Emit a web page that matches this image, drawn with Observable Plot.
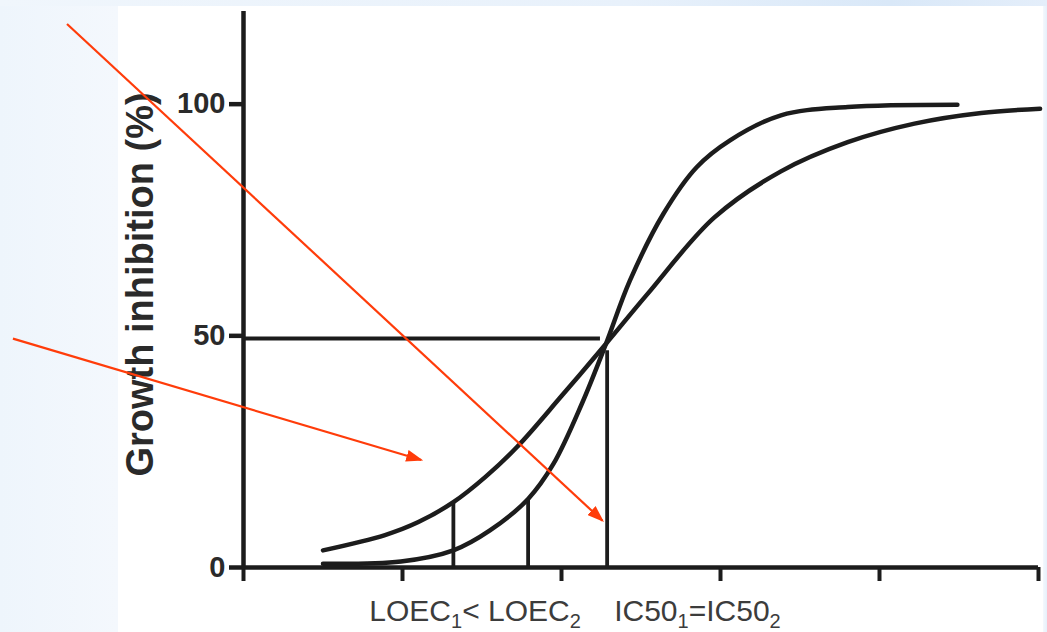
<!DOCTYPE html>
<html>
<head>
<meta charset="utf-8">
<script src="https://cdn.jsdelivr.net/npm/d3@7"></script>
<script src="https://cdn.jsdelivr.net/npm/@observablehq/plot@0.6"></script>
<style>
  html, body { margin: 0; padding: 0; width: 1047px; height: 632px; overflow: hidden; }
  body { background: linear-gradient(to right, #eef5fc 0px, #f4f8fd 118px, #f4f8fd 1043px, #e6f0fb 1047px); position: relative; font-family: "Liberation Sans", Arial, sans-serif; }
  #topband { position: absolute; left: 0; top: 0; width: 1047px; height: 6px; background: linear-gradient(to right, #f0f6fc, #e8f1fb 60%, #d9e8f8 85%, #e4eefa); }
  #panel { position: absolute; left: 118px; top: 6px; width: 925px; height: 626px; background: #ffffff; }
  #chart { position: absolute; left: 0; top: 0; }
</style>
</head>
<body>
<div id="topband"></div>
<div id="panel"></div>
<div id="chart"></div>
<script>
// ---- data ----
const curve1X = [0.50, 0.89, 1.10, 1.32, 1.52, 1.72, 2.00, 2.28, 2.54, 2.96, 3.38, 3.80, 4.22, 4.64, 5.01];
const curve1Y = [3.7, 7.0, 9.8, 14.1, 19.5, 26.0, 37.0, 48.3, 59.0, 75.5, 85.5, 91.8, 95.8, 98.1, 99.0];
const curve2X = [0.50, 0.99, 1.32, 1.55, 1.79, 1.95, 2.13, 2.28, 2.43, 2.64, 2.85, 3.06, 3.38, 3.80, 4.49];
const curve2Y = [0.8, 1.3, 3.7, 8.0, 14.8, 22.4, 35.5, 48.3, 61.9, 76.3, 86.4, 92.2, 97.6, 99.4, 99.9];
const loecX = [1.32, 1.79];
const loecY = [14.1, 14.8];
const ic50X = 2.287;
const ic50DropTop = 46.8;
const ic50Level = 49.4;
const ic50LevelEnd = 2.245;
const xTicks = [0, 1, 2, 3, 4, 5];
const yTicks = [0, 50, 100];
const yLabel = "Growth inhibition (%)";
const xLabelParts = ["LOEC", "1", "< LOEC", "2", "\u00a0\u00a0\u00a0\u00a0IC50", "1", "=IC50", "2"];
const xLabelSub = [false, true, false, true, false, true, false, true];
const arrowX1 = [-1.11, -1.45];
const arrowY1 = [117.3, 49.4];
const arrowX2 = [2.258, 1.118];
const arrowY2 = [10.1, 23.2];

// ---- build tables ----
const c1 = curve1X.map((x, i) => ({x, y: curve1Y[i]}));
const c2 = curve2X.map((x, i) => ({x, y: curve2Y[i]}));
const loec = loecX.map((x, i) => ({x, y: loecY[i]}));
const arrows = arrowX1.map((x1, i) => ({x1, y1: arrowY1[i], x2: arrowX2[i], y2: arrowY2[i]}));
const xLabel = xLabelParts.join("");

const ink = "#1c1c1c";
const red = "#ff3c0a";

function headMarker(color) {
  const m = d3.create("svg:marker")
    .attr("viewBox", "0 -6 17 12")
    .attr("markerWidth", 17).attr("markerHeight", 12)
    .attr("refX", 15).attr("refY", 0)
    .attr("markerUnits", "userSpaceOnUse")
    .attr("orient", "auto");
  m.append("path").attr("d", "M0,-6L17,0L0,6Z").attr("fill", color).attr("stroke", "none");
  return m.node();
}

function build(useMarker) {
  const arrowMark = useMarker
    ? Plot.link(arrows, {x1: "x1", y1: "y1", x2: "x2", y2: "y2", stroke: red, strokeWidth: 2.2, markerEnd: headMarker})
    : Plot.arrow(arrows, {x1: "x1", y1: "y1", x2: "x2", y2: "y2", stroke: red, strokeWidth: 2.2, headLength: 16});
  return Plot.plot({
    width: 1047,
    height: 632,
    marginLeft: 243,
    marginRight: 9,
    marginTop: 11,
    marginBottom: 65,
    style: {background: "transparent", fontFamily: "'Liberation Sans', Arial, sans-serif", overflow: "visible"},
    x: {domain: [0, 5]},
    y: {domain: [0, 120]},
    marks: [
      Plot.axisX({ticks: xTicks, tickSize: 14, tickFormat: () => "", strokeWidth: 4, stroke: ink, label: null}),
      Plot.axisY({ticks: yTicks, tickSize: 14, tickPadding: 4, fontSize: 29, fontWeight: "bold", strokeWidth: 4.5, stroke: ink, fill: "#2a2a2a", label: null}),
      Plot.ruleX([0], {strokeWidth: 4.5, stroke: ink}),
      Plot.ruleY([0], {strokeWidth: 4.5, stroke: ink}),
      Plot.ruleX(loec, {x: "x", y1: 0, y2: "y", strokeWidth: 3.8, stroke: ink}),
      Plot.ruleX([ic50X], {x: d => d, y1: 0, y2: ic50DropTop, strokeWidth: 3.8, stroke: ink}),
      Plot.ruleY([ic50Level], {y: d => d, x1: 0, x2: ic50LevelEnd, strokeWidth: 4, stroke: ink}),
      Plot.line(c1, {x: "x", y: "y", curve: "catmull-rom", stroke: ink, strokeWidth: 4.5}),
      Plot.line(c2, {x: "x", y: "y", curve: "catmull-rom", stroke: ink, strokeWidth: 4.5}),
      Plot.text([yLabel], {frameAnchor: "left", textAnchor: "middle", lineAnchor: "middle", rotate: -90, dx: -103, dy: -5, fontSize: 38, fontWeight: "bold", fill: "#2a2a2a"}),
      Plot.text([xLabel], {frameAnchor: "bottom", textAnchor: "middle", lineAnchor: "middle", dx: -66, dy: 44, fontSize: 30, fill: "#3c3c3c"}),
      arrowMark
    ]
  });
}

let chart;
try { chart = build(true); } catch (e) { chart = build(false); }
document.getElementById("chart").append(chart);

// subscripts in the x caption
const svg = d3.select(chart);
svg.selectAll("text").filter(function () { return this.textContent === xLabel; }).each(function () {
  const t = d3.select(this);
  t.text(null);
  let shifted = false;
  xLabelParts.forEach((p, i) => {
    const ts = t.append("tspan").text(p);
    if (xLabelSub[i]) { ts.attr("font-size", 20).attr("dy", 7); shifted = true; }
    else if (shifted) { ts.attr("dy", -7); shifted = false; }
  });
});
</script>
</body>
</html>
